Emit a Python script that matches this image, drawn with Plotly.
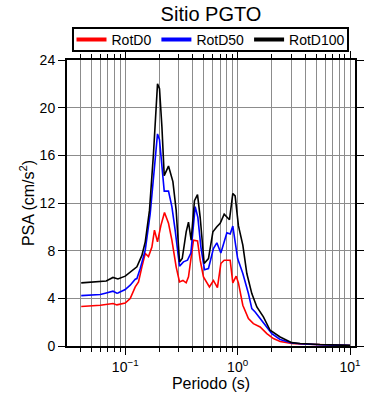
import plotly.graph_objects as go

# RotD100 (black)
per_d100 = [0.0406, 0.06, 0.0678, 0.0778, 0.0861, 0.1, 0.1107, 0.1148, 0.127, 0.1407, 0.1507,
            0.1644, 0.1785, 0.1937, 0.2018, 0.212, 0.2223, 0.2426, 0.2655, 0.2838, 0.304,
            0.3214, 0.3485, 0.3654, 0.386, 0.413, 0.4395, 0.4642, 0.5036, 0.55, 0.6025,
            0.653, 0.699, 0.759, 0.846, 0.906, 0.95, 1.016, 1.112, 1.207, 1.337, 1.482,
            1.695, 1.944, 2.387, 3.03, 3.6, 5.4, 9.35, 10.0]
psa_d100 = [5.30, 5.44, 5.46, 5.75, 5.63, 5.86, 6.20, 6.36, 6.64, 7.60, 8.74,
            11.4, 16.2, 22.0, 21.6, 18.4, 14.3, 15.1, 13.8, 11.4, 7.06,
            7.34, 9.58, 10.4, 8.88, 12.2, 12.7, 10.8, 6.92, 7.34, 9.58,
            10.0, 10.3, 11.07, 10.6, 12.8, 12.6, 10.1, 8.46, 6.08, 4.40, 3.28,
            2.44, 1.32, 0.76, 0.28, 0.21, 0.12, 0.06, 0.05]

# RotD50 (blue)
per_d50 = [0.0406, 0.06, 0.0678, 0.0778, 0.0844, 0.0861, 0.1, 0.1107, 0.1228, 0.127, 0.136,
           0.1507, 0.1668, 0.181, 0.1937, 0.2018, 0.212, 0.2223, 0.2426, 0.260, 0.278,
           0.304, 0.3297, 0.358, 0.3837, 0.419, 0.4427, 0.471, 0.507, 0.55, 0.609, 0.653,
           0.709, 0.802, 0.858, 0.906, 1.0, 1.112, 1.247, 1.337, 1.431, 1.585, 1.819,
           2.013, 2.387, 3.03, 3.6, 5.4, 9.35, 10.0]
psa_d50 = [4.23, 4.32, 4.45, 4.60, 4.43, 4.45, 4.74, 5.10, 5.60, 5.66, 6.50,
           8.04, 11.1, 14.8, 17.8, 17.3, 15.0, 13.0, 13.0, 11.7, 9.72,
           6.70, 7.06, 7.20, 7.80, 11.7, 10.8, 8.30, 6.40, 6.50, 8.18, 8.66,
           7.80, 9.50, 9.40, 10.06, 7.34, 6.08, 4.40, 3.14, 2.86, 2.30, 1.60,
           1.04, 0.55, 0.25, 0.19, 0.10, 0.05, 0.04]

# RotD0 (red)
per_d0 = [0.0406, 0.06, 0.0778, 0.0844, 0.1, 0.1107, 0.1228, 0.1313, 0.1407, 0.1507, 0.161,
          0.1727, 0.182, 0.1937, 0.2075, 0.2235, 0.2426, 0.260, 0.2838, 0.304, 0.326,
          0.3485, 0.3654, 0.4046, 0.4395, 0.4642, 0.4966, 0.561, 0.609, 0.661, 0.709,
          0.759, 0.858, 0.906, 0.97, 1.016, 1.112, 1.247, 1.381, 1.585, 1.819, 2.081,
          2.387, 3.03, 3.6, 5.4, 9.35, 10.0]
psa_d0 = [3.31, 3.42, 3.56, 3.45, 3.60, 3.98, 4.96, 5.38, 6.64, 7.76, 7.50,
          8.30, 9.72, 8.74, 10.1, 11.2, 10.3, 8.88, 6.64, 5.38, 5.50,
          5.30, 5.80, 8.88, 8.82, 7.20, 5.80, 4.96, 5.50, 4.90, 6.92,
          7.20, 7.20, 5.30, 5.86, 5.30, 3.42, 2.30, 1.88, 1.60, 1.04, 0.62,
          0.38, 0.22, 0.17, 0.09, 0.04, 0.03]

series_names = ["RotD0", "RotD50", "RotD100"]
series_colors = ["#ff0000", "#0000ff", "#000000"]

x_tickvals = [0.1, 1, 10]
x_ticktext = ["10<sup>\u22121</sup>", "10<sup>0</sup>", "10<sup>1</sup>"]
y_tickvals = [0, 4, 8, 12, 16, 20, 24]

FONT = "Liberation Sans, Arial, sans-serif"

fig = go.Figure()
for name, px_, py_, col in zip(series_names, [per_d0, per_d50, per_d100],
                               [psa_d0, psa_d50, psa_d100], series_colors):
    fig.add_trace(go.Scatter(x=px_, y=py_, mode="lines", name=name, legendgroup=name,
                             showlegend=False, line=dict(color=col, width=1.6)))
# legend-only entries with thicker sample lines
for name, col in zip(series_names, series_colors):
    fig.add_trace(go.Scatter(x=[None], y=[None], mode="lines", name=name, legendgroup=name,
                             showlegend=True, line=dict(color=col, width=4)))

fig.update_layout(
    width=390, height=400,
    margin=dict(l=67, r=35, t=60, b=54, autoexpand=False),
    paper_bgcolor="white", plot_bgcolor="white",
    font=dict(family=FONT, color="black", size=14),
    title=dict(text="Sitio PGTO", x=0.541, xanchor="center", y=0.964, yanchor="middle",
               font=dict(size=20)),
    legend=dict(orientation="h", x=0.5, xanchor="center", y=1.07, yanchor="middle",
                bgcolor="rgba(0,0,0,0)", borderwidth=0, font=dict(size=14),
                itemwidth=30, tracegroupgap=0),
    showlegend=True,
    shapes=[dict(type="rect", xref="paper", yref="paper",
                 x0=0.0208, x1=0.9757, y0=1.0315, y1=1.1119,
                 line=dict(color="black", width=2), fillcolor="rgba(0,0,0,0)",
                 layer="below")],
)
fig.update_xaxes(
    type="log", range=[-1.518, 1.044],
    tickvals=x_tickvals, ticktext=x_ticktext,
    ticks="outside", ticklen=7, tickwidth=1, tickcolor="black",
    showline=True, linecolor="black", linewidth=2, mirror="allticks",
    showgrid=True, gridcolor="#8c8c8c", gridwidth=1,
    minor=dict(dtick="D1", showgrid=True, gridcolor="#8c8c8c", gridwidth=1,
               ticks="outside", ticklen=4, tickcolor="black"),
    title=dict(text="Periodo (s)", font=dict(size=16), standoff=4),
    zeroline=False,
)
fig.update_yaxes(
    range=[0, 24], tickvals=y_tickvals,
    ticks="outside", ticklen=7, tickwidth=1, tickcolor="black",
    showline=True, linecolor="black", linewidth=2, mirror="allticks",
    showgrid=True, gridcolor="#8c8c8c", gridwidth=1,
    title=dict(text="PSA (cm/s<sup>2</sup>)", font=dict(size=16), standoff=1),
    zeroline=False,
)

fig.write_html("out.html", config={"displayModeBar": False},
               post_script="document.body.style.margin='0';")
